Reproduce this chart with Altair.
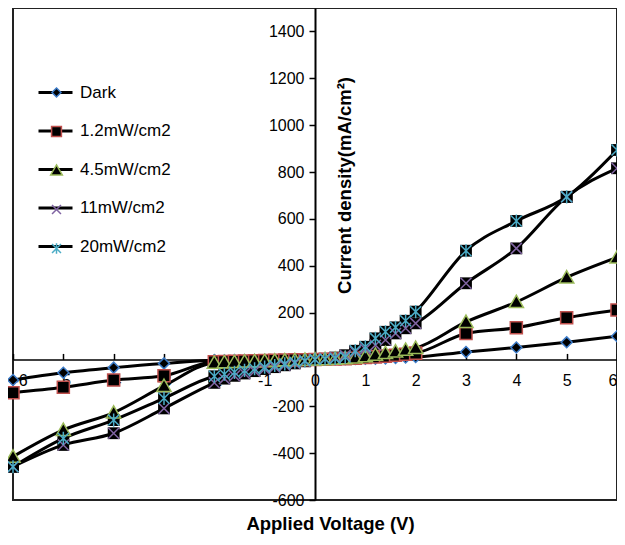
import altair as alt
import pandas as pd

# ---- data ----
voltage = [-6, -5, -4, -3,
           -2.0, -1.8, -1.6, -1.4, -1.2, -1.0, -0.8, -0.6, -0.4, -0.2, 0.0,
           0.2, 0.4, 0.6, 0.8, 1.0, 1.2, 1.4, 1.6, 1.8, 2.0,
           3, 4, 5, 6]

series_names = ["Dark", "1.2mW/cm2", "4.5mW/cm2", "11mW/cm2", "20mW/cm2"]

dark = [-88, -57, -35, -17,
        -4, -3.5, -3, -2.5, -2, -1.5, -1, -0.8, -0.5, -0.2, 0,
        0.3, 0.7, 1.2, 1.8, 2.6, 3.5, 4.6, 6, 8, 10,
        32, 51, 73, 99]
p12 = [-142, -119, -88, -70,
       -10, -9, -8, -7, -6, -5, -4, -3, -2, -1, 0,
       1, 2, 3.5, 5, 8, 11, 14, 18, 22, 27,
       111, 135, 178, 211]
p45 = [-415, -301, -227, -113,
       -14, -12, -11, -9, -8, -7, -5, -4, -3, -1.5, 0,
       1, 3, 5, 8, 13, 20, 27, 34, 41, 49,
       160, 245, 350, 435]
p11 = [-458, -365, -315, -209,
       -100, -82, -70, -60, -50, -41, -33, -25, -17, -8, 0,
       3, 8, 18, 32, 45, 61, 83, 111, 133, 154,
       325, 474, 694, 816]
p20 = [-458, -337, -259, -166,
       -72, -63, -55, -47, -40, -33, -26, -19, -12, -6, 0,
       2, 4, 10, 37, 54, 90, 118, 137, 165, 204,
       464, 591, 694, 894]

series_values = [dark, p12, p45, p11, p20]

marker_colors = ["#3d7cc9", "#c0504d", "#9bbb59", "#8064a2", "#4bacc6"]
marker_shapes = ["M0,-1L1,0L0,1L-1,0Z",
                 "M-1.1,-1.1L1.1,-1.1L1.1,1.1L-1.1,1.1Z",
                 "M0,-1.25L1.3,1L-1.3,1Z",
                 "M-1,-1L1,1M1,-1L-1,1",
                 "M-1,-1L1,1M1,-1L-1,1M0,-1.2L0,1.2"]

x_ticks = [-6, -5, -4, -3, -2, -1, 0, 1, 2, 3, 4, 5, 6]
y_ticks = [-600, -400, -200, 200, 400, 600, 800, 1000, 1200, 1400]

rows = []
for sid, (name, vals) in enumerate(zip(series_names, series_values)):
    for v, j in zip(voltage, vals):
        rows.append({"V": v, "J": j, "series": name, "sid": sid})
df = pd.DataFrame(rows)

FONT = "Liberation Sans"
W, H = 604, 492
Y_DOM = [-600, 1500]
zero_from_top = H * (Y_DOM[1] - 0) / (Y_DOM[1] - Y_DOM[0])
zero_from_bottom = H - zero_from_top

y_enc = alt.Y(
    "J:Q",
    scale=alt.Scale(domain=Y_DOM, nice=False, zero=False),
    axis=alt.Axis(
        orient="left", offset=-W / 2, values=y_ticks, grid=False,
        labelExpr="datum.value + ''",
        labelFont=FONT, labelFontSize=16, labelColor="black", labelPadding=5,
        tickSize=6, tickColor="black", tickWidth=1.5,
        domainColor="black", domainWidth=2,
        title="Current density(mA/cm²)", titleFont=FONT, titleFontSize=18.5,
        titleFontWeight="bold", titleColor="black", titleAngle=270,
        titleX=35, titleY=177, titleAlign="center", titleBaseline="alphabetic",
    ),
)

x_scale = alt.Scale(domain=[-6, 6], nice=False, zero=False)

lines = alt.Chart(df).mark_line(strokeWidth=3, interpolate="monotone").encode(
    x=alt.X("V:Q", scale=x_scale, axis=alt.Axis(
        orient="bottom", offset=-zero_from_bottom, values=x_ticks, grid=False,
        labelExpr="datum.value + ''",
        ticks=False, labelPadding=13, labelFlush=True, labelOverlap=False,
        labelFont=FONT, labelFontSize=16, labelColor="black",
        domainColor="black", domainWidth=1.5,
        title="Applied Voltage (V)", titleFont=FONT, titleFontSize=18.5,
        titleFontWeight="bold", titleColor="black",
        titleX=317, titleY=170, titleAlign="center", titleBaseline="alphabetic",
    )),
    y=y_enc,
    color=alt.Color("series:N", scale=alt.Scale(domain=series_names, range=["black"] * 5),
                    legend=alt.Legend(
                        orient="none", legendX=24, legendY=66, title=None,
                        symbolType="stroke", symbolSize=1156, symbolStrokeWidth=3,
                        labelFont=FONT, labelFontSize=17, labelColor="black",
                        labelOffset=6, rowPadding=11.5, padding=0)),
    detail="series:N",
)

under = alt.Chart(df).transform_filter("datum.sid >= 3").mark_square(
    size=140, color="black", opacity=1
).encode(
    x=alt.X("V:Q", scale=x_scale, axis=None),
    y=y_enc,
)

pt_legend = alt.Legend(
    orient="none", legendX=35, legendY=76, title=None,
    symbolSize=80, symbolFillColor="black", symbolStrokeWidth=1.5,
    labelFontSize=17, labelOpacity=0, rowPadding=21, padding=0, zindex=1)

pts = alt.Chart(df).mark_point(filled=True, fill="black", strokeWidth=1.5, size=120, opacity=1).encode(
    x=alt.X("V:Q", scale=x_scale, axis=alt.Axis(
        orient="top", offset=-zero_from_top, values=x_ticks, grid=False,
        labels=False, domain=False, tickSize=6, tickColor="black", tickWidth=1.5,
        title=None)),
    y=y_enc,
    stroke=alt.Stroke("sid:N", scale=alt.Scale(domain=[0, 1, 2, 3, 4], range=marker_colors),
                      legend=pt_legend),
    shape=alt.Shape("sid:N", scale=alt.Scale(domain=[0, 1, 2, 3, 4], range=marker_shapes),
                    legend=pt_legend),
)

chart = alt.layer(lines, under, pts).resolve_scale(x="independent").properties(
    width=W, height=H,
    autosize=alt.AutoSizeParams(type="none"),
    padding={"left": 5, "top": 0, "right": 0, "bottom": 34},
).configure_view(stroke="#222", strokeWidth=2)

chart.save("out.html", embed_options={"renderer": "svg", "actions": False})
